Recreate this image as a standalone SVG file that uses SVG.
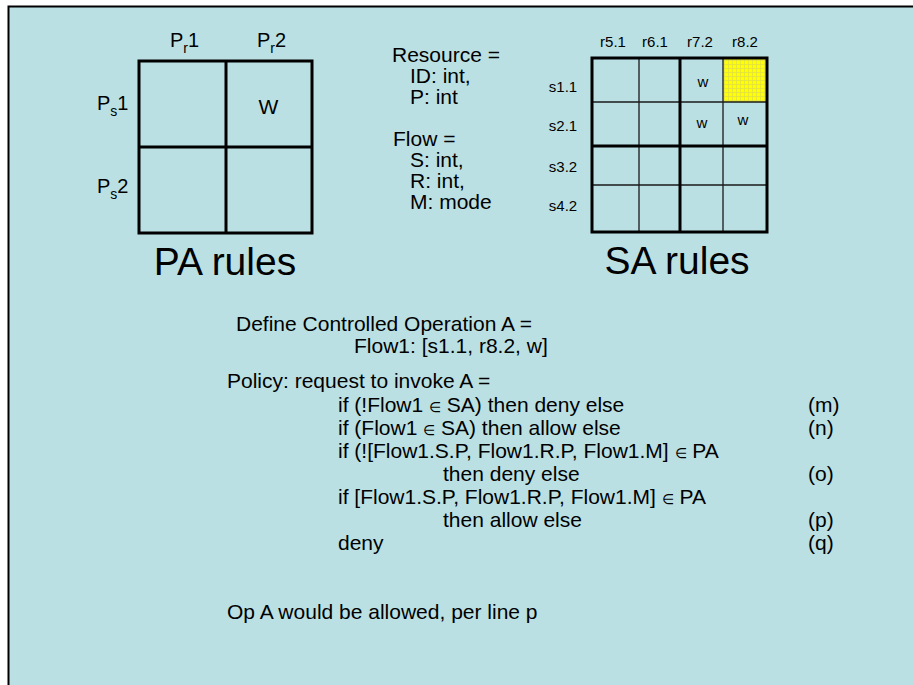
<svg xmlns="http://www.w3.org/2000/svg" width="913" height="685" viewBox="0 0 913 685">
<style>
text{font-family:"Liberation Sans",Arial,sans-serif;fill:#000}
.t{font-size:21px}
.pl{font-size:20px}
.s{font-size:15px}
.big{font-size:39px}
.sub{font-size:14px}
.el{font-size:14px}
.thick{stroke:#000;stroke-width:3;fill:none}
.thin{stroke:#1a1a1a;stroke-width:1.3;fill:none}
</style>
<defs>
<pattern id="yg" width="4" height="4" patternUnits="userSpaceOnUse">
<rect width="4" height="4" fill="#ffff00"/>
<path d="M0 0.5H4M0.5 0V4" stroke="#dede4a" stroke-width="0.7"/>
</pattern>
</defs>
<rect width="913" height="685" fill="#fff"/>
<rect x="9" y="7" width="904" height="678" fill="#bbe0e3"/>
<path d="M8.5 685V6.5H913" stroke="#000" stroke-width="2" fill="none"/>

<g id="pa-grid">
<rect x="139" y="61" width="173" height="172" class="thick"/>
<path d="M226 61V233M139 147H312" class="thick"/>
<text class="pl" x="170" y="47">P<tspan class="sub" dy="6">r</tspan><tspan dy="-6">1</tspan></text>
<text class="pl" x="257" y="47">P<tspan class="sub" dy="6">r</tspan><tspan dy="-6">2</tspan></text>
<text class="pl" x="97" y="110">P<tspan class="sub" dy="6">s</tspan><tspan dy="-6">1</tspan></text>
<text class="pl" x="97" y="193">P<tspan class="sub" dy="6">s</tspan><tspan dy="-6">2</tspan></text>
<text class="t" x="268.5" y="114" text-anchor="middle">W</text>
<text class="big" x="225" y="275" text-anchor="middle">PA rules</text>
</g>

<g id="types">
<text class="t" x="392" y="62">Resource =</text>
<text class="t" x="410" y="83">ID: int,</text>
<text class="t" x="410" y="104">P: int</text>
<text class="t" x="393" y="146">Flow =</text>
<text class="t" x="410" y="167">S: int,</text>
<text class="t" x="410" y="188">R: int,</text>
<text class="t" x="410" y="209">M: mode</text>
</g>

<g id="sa-grid">
<rect x="723" y="58" width="44" height="44" fill="url(#yg)"/>
<path d="M639 58V232M723 58V232M592 102H767M592 185H767" class="thin"/>
<path d="M680 58V232M592 146H767" class="thick"/>
<rect x="592" y="58" width="175" height="174" class="thick"/>
<text class="s" x="613" y="47" text-anchor="middle">r5.1</text>
<text class="s" x="655" y="47" text-anchor="middle">r6.1</text>
<text class="s" x="700" y="47" text-anchor="middle">r7.2</text>
<text class="s" x="745" y="47" text-anchor="middle">r8.2</text>
<text class="s" x="563" y="92" text-anchor="middle">s1.1</text>
<text class="s" x="563" y="131" text-anchor="middle">s2.1</text>
<text class="s" x="563" y="172" text-anchor="middle">s3.2</text>
<text class="s" x="563" y="211" text-anchor="middle">s4.2</text>
<text class="s" x="703" y="87" text-anchor="middle">w</text>
<text class="s" x="702" y="128" text-anchor="middle">w</text>
<text class="s" x="743" y="125" text-anchor="middle">w</text>
<text class="big" x="677" y="274" text-anchor="middle">SA rules</text>
</g>

<g id="operation">
<text class="t" x="236" y="331">Define Controlled Operation A =</text>
<text class="t" x="354" y="353">Flow1: [s1.1, r8.2, w]</text>
</g>

<g id="policy">
<text class="t" x="227" y="388">Policy: request to invoke A =</text>
<text class="t" x="338" y="412">if (!Flow1 <tspan class="el">∈</tspan> SA) then deny else</text>
<text class="t" x="338" y="435">if (Flow1 <tspan class="el">∈</tspan> SA) then allow else</text>
<text class="t" x="338" y="458">if (![Flow1.S.P, Flow1.R.P, Flow1.M] <tspan class="el">∈</tspan> PA</text>
<text class="t" x="443" y="481">then deny else</text>
<text class="t" x="338" y="504">if [Flow1.S.P, Flow1.R.P, Flow1.M] <tspan class="el">∈</tspan> PA</text>
<text class="t" x="443" y="527">then allow else</text>
<text class="t" x="338" y="550">deny</text>
<text class="t" x="808" y="412">(m)</text>
<text class="t" x="808" y="435">(n)</text>
<text class="t" x="808" y="481">(o)</text>
<text class="t" x="808" y="527">(p)</text>
<text class="t" x="808" y="550">(q)</text>
<text class="t" x="227" y="619">Op A would be allowed, per line p</text>
</g>
</svg>
